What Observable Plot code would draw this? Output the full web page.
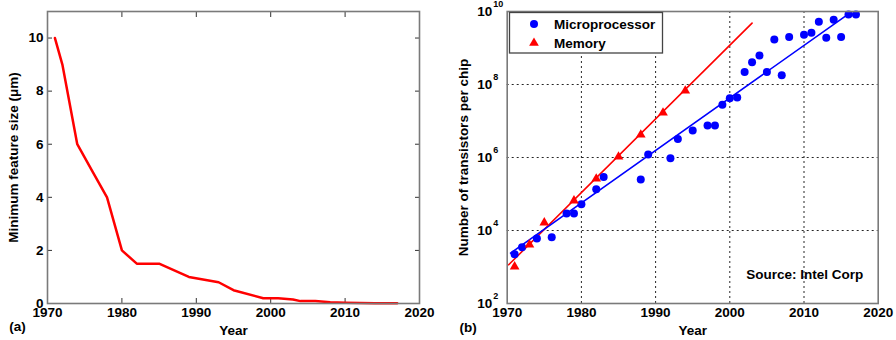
<!DOCTYPE html>
<html><head><meta charset="utf-8">
<script src="https://cdn.jsdelivr.net/npm/d3@7"></script>
<script src="https://cdn.jsdelivr.net/npm/@observablehq/plot@0.6"></script>
<style>
body{margin:0;background:#fff;}
#wrap{position:relative;width:896px;height:340px;background:#fff;}
#a,#b{position:absolute;top:0;}
#a{left:0}#b{left:448px}
</style></head><body><div id="wrap"><div id="a"></div><div id="b"></div></div>
<script>
// Panel (a): minimum feature size
const featureYears = [1971,1972,1974,1976,1978,1979,1980,1982,1985,1989,1993,1995,1999,2001,2003,2004,2006,2008,2010,2012,2014,2017];
const featureSizes = [10,9,6,5,4,3,2,1.5,1.5,1.0,0.8,0.5,0.2,0.2,0.15,0.09,0.09,0.045,0.032,0.022,0.014,0.012];
// Panel (b): transistors per chip
const microYears = [1971,1972,1974,1976,1978,1979,1980,1982,1983,1988,1989,1992,1993,1995,1997,1998,1999,2000,2001,2002,2003,2004,2005,2006,2007,2008,2010,2011,2012,2013,2014,2015,2016,2017];
const microCounts = [2250,3500,6000,6500,29000,29000,52000,134000,290000,250000,1.2e6,9.5e5,3.2e6,5.5e6,7.5e6,7.5e6,2.8e7,4.2e7,4.4e7,2.2e8,4.1e8,6.2e8,2.2e8,1.7e9,1.8e8,2.0e9,2.3e9,2.6e9,5.2e9,1.9e9,5.9e9,2.0e9,8.3e9,8.3e9];
const memYears = [1971,1973,1975,1979,1982,1985,1988,1991,1994];
const memCounts = [1024,4096,16384,65536,262144,1048576,4194304,16777216,67108864];
const microFitYears = [1970.45, 2016.3];
const microFitCounts = [2.4e3, 9.5e9];
const memFitYears = [1970.2, 2003];
const memFitCounts = [1.15e3, 4.8e9];
const xTicks = [1970,1980,1990,2000,2010,2020];
const yTicksA = [0,2,4,6,8,10];
const yTicksB = [1e2,1e4,1e6,1e8,1e10];
const gridXB = [1980,1990,2000,2010];
const gridYB = [1e4,1e6,1e8];
const labelA = "Minimum feature size (μm)";
const labelB = "Number of transistors per chip";
const xLabel = "Year";
const seriesNames = ["Microprocessor","Memory"];
const sourceNote = "Source: Intel Corp";

const feature = featureYears.map((y,i)=>({year:y, size:featureSizes[i]}));
const micro = microYears.map((y,i)=>({year:y, n:microCounts[i]}));
const mem = memYears.map((y,i)=>({year:y, n:memCounts[i]}));
const microFit = microFitYears.map((y,i)=>({year:y, n:microFitCounts[i]}));
const memFit = memFitYears.map((y,i)=>({year:y, n:memFitCounts[i]}));

const FONT = "Liberation Sans, Arial, Helvetica, sans-serif";
const FS = 13.5;
const style = {fontFamily: FONT, fontSize: FS + "px", fontWeight: "bold", background: "transparent", color: "#000", overflow: "visible"};
const frameColor = "#7a7a7a";
const txt = {fontSize: FS, fontWeight: "bold", fill: "#000"};
const ctr = {textAnchor: "middle", lineAnchor: "middle"};

const plotA = Plot.plot({
  width: 448, height: 340,
  marginLeft: 47, marginRight: 29, marginTop: 11, marginBottom: 37,
  style,
  x: {domain: [1970, 2020], axis: null},
  y: {domain: [0, 11], axis: null},
  marks: [
    Plot.axisX({ticks: xTicks, tickSize: -5, tickFormat: () => "", label: null, stroke: "#333"}),
    Plot.axisX({ticks: xTicks, anchor: "top", tickSize: -5, tickFormat: () => "", label: null, stroke: "#333"}),
    Plot.axisY({ticks: yTicksA, tickSize: -5, tickFormat: () => "", label: null, stroke: "#333"}),
    Plot.axisY({ticks: yTicksA, anchor: "right", tickSize: -5, tickFormat: () => "", label: null, stroke: "#333"}),
    Plot.line(feature, {x: "year", y: "size", stroke: "#ff0000", strokeWidth: 2.5}),
    Plot.frame({stroke: frameColor, strokeWidth: 1.6}),
    Plot.axisX({ticks: xTicks, tickSize: 0, tickPadding: 4, tickFormat: d => String(d), label: null, ...txt}),
    Plot.axisY({ticks: yTicksA, tickSize: 0, tickPadding: 4, tickFormat: d => String(d), label: null, ...txt}),
    Plot.text([labelA], {text: d => d, frameAnchor: "left", rotate: -90, dx: -34, ...ctr, ...txt}),
    Plot.text([xLabel], {text: d => d, frameAnchor: "bottom", dy: 27, ...ctr, ...txt}),
    Plot.text(["(a)"], {text: d => d, frameAnchor: "bottom-left", dx: -30, dy: 23, ...ctr, ...txt})
  ]
});
document.getElementById("a").append(plotA);

const plotB = Plot.plot({
  width: 448, height: 340,
  marginLeft: 58.7, marginRight: 18.3, marginTop: 11, marginBottom: 37,
  style,
  x: {domain: [1970, 2020], axis: null},
  y: {type: "log", domain: [1e2, 1e10], axis: null},
  marks: [
    Plot.gridX({ticks: gridXB, stroke: "#000", strokeOpacity: 0.85, strokeDasharray: "2,3", strokeWidth: 1}),
    Plot.gridY({ticks: gridYB, stroke: "#000", strokeOpacity: 0.85, strokeDasharray: "2,3", strokeWidth: 1}),
    Plot.line(memFit, {x: "year", y: "n", stroke: "#ff0000", strokeWidth: 1.6}),
    Plot.line(microFit, {x: "year", y: "n", stroke: "#0000ff", strokeWidth: 1.6}),
    Plot.dot(micro, {x: "year", y: "n", r: 4, fill: "#0000ff"}),
    Plot.dot(mem, {x: "year", y: "n", r: 3.6, symbol: "triangle", fill: "#ff0000"}),
    Plot.frame({stroke: frameColor, strokeWidth: 1.6}),
    Plot.axisX({ticks: xTicks, tickSize: 0, tickPadding: 4, tickFormat: d => String(d), label: null, ...txt}),
    Plot.text(yTicksB, {y: d => d, frameAnchor: "left", text: () => "10", textAnchor: "end", lineAnchor: "middle", dx: -15, ...txt}),
    Plot.text(yTicksB, {y: d => d, frameAnchor: "left", text: d => String(Math.round(Math.log10(d))), textAnchor: "start", lineAnchor: "middle", dx: -14, dy: -7, fontSize: 9, fontWeight: "bold", fill: "#000"}),
    Plot.text([labelB], {text: d => d, frameAnchor: "left", rotate: -90, dx: -44, ...ctr, ...txt}),
    Plot.text([xLabel], {text: d => d, frameAnchor: "bottom", dy: 27, ...ctr, ...txt}),
    Plot.text(["(b)"], {text: d => d, frameAnchor: "bottom-left", dx: -39, dy: 24, ...ctr, ...txt}),
    Plot.text([sourceNote], {text: d => d, frameAnchor: "bottom-right", textAnchor: "end", lineAnchor: "middle", dx: -15, dy: -29, ...txt})
  ]
});
document.getElementById("b").append(plotB);

// Legend drawn inside panel (b)
const svgB = d3.select(plotB);
const lg = svgB.append("g").attr("font-family", FONT).attr("font-size", FS).attr("font-weight", "bold").attr("text-anchor", "start");
lg.append("rect").attr("x", 61.5).attr("y", 12.5).attr("width", 153).attr("height", 40.5)
  .attr("fill", "#fff").attr("stroke", "#444").attr("stroke-width", 1.3);
lg.append("circle").attr("cx", 86).attr("cy", 24).attr("r", 4).attr("fill", "#0000ff");
lg.append("path").attr("d", d3.symbol(d3.symbolTriangle, Math.PI * 3.6 * 3.6)()).attr("transform", "translate(86,43)").attr("fill", "#ff0000");
lg.append("text").attr("x", 106).attr("y", 24).attr("dy", "0.35em").attr("fill", "#000").text(seriesNames[0]);
lg.append("text").attr("x", 106).attr("y", 43).attr("dy", "0.35em").attr("fill", "#000").text(seriesNames[1]);
</script>
</body></html>
